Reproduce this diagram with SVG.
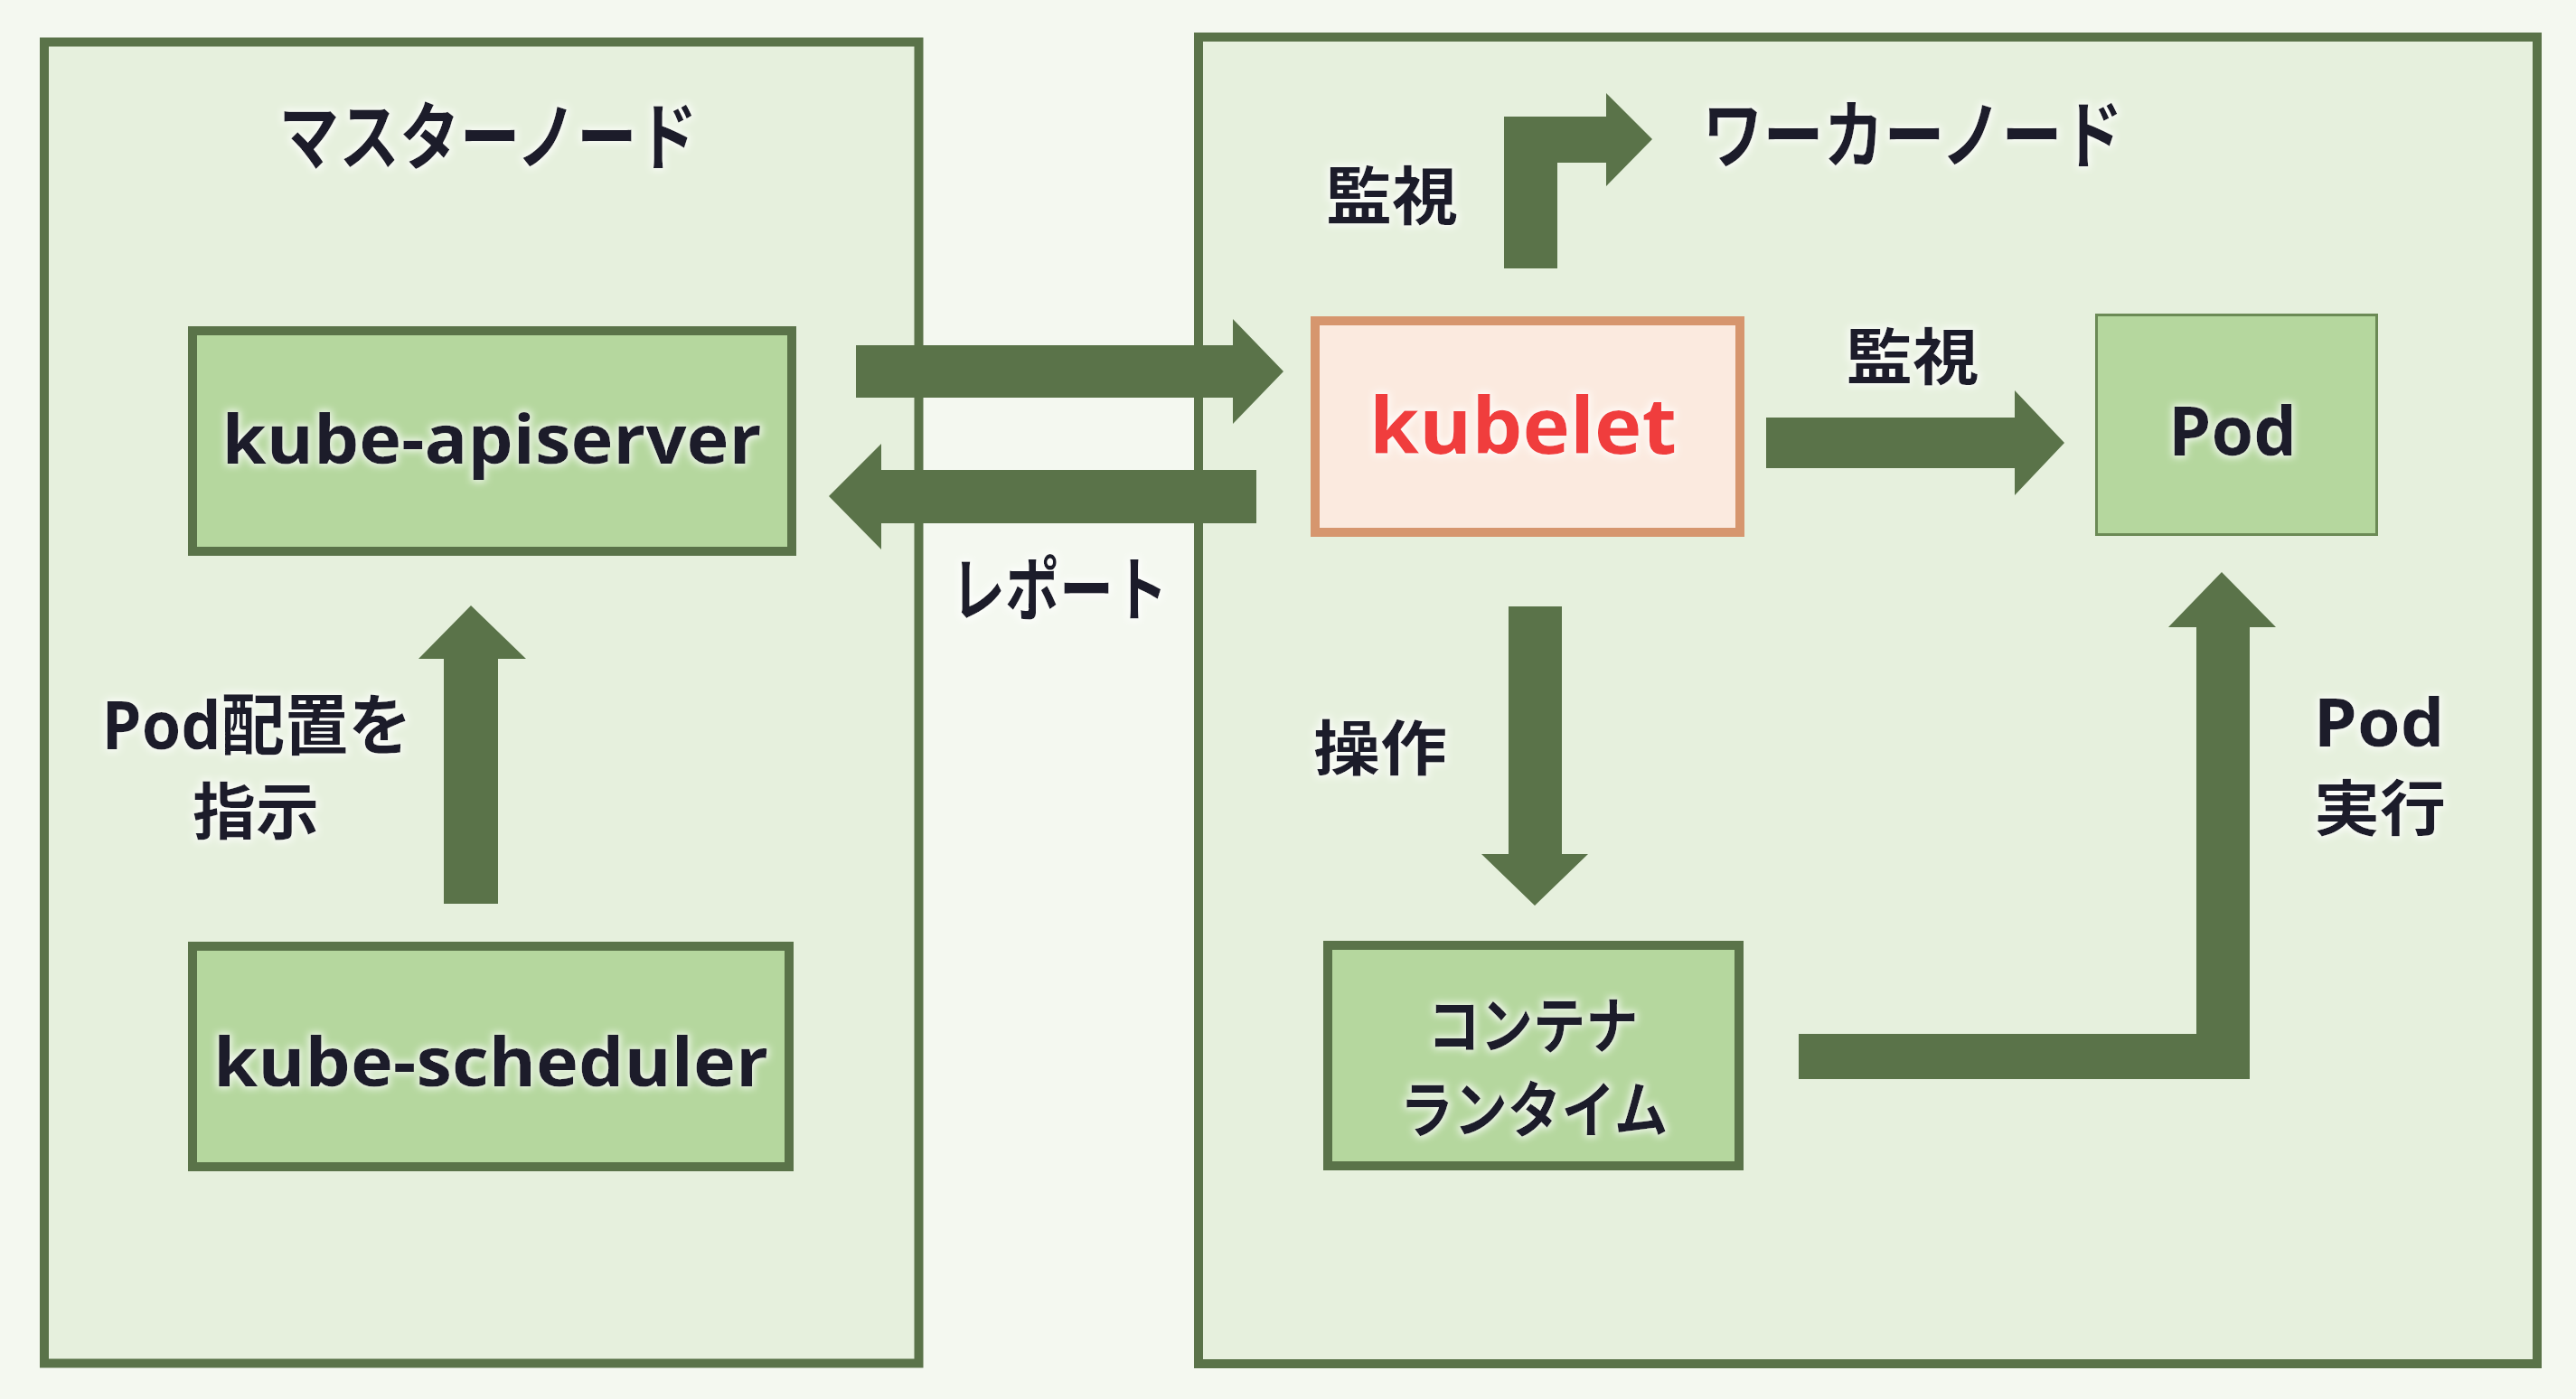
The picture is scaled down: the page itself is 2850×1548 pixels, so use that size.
<svg xmlns="http://www.w3.org/2000/svg" width="2850" height="1548" viewBox="0 0 2850 1548">
<defs>
<style>
.frame{fill:#e6f0dd;stroke:#5a7349;stroke-width:10}
.node{fill:#b5d79e;stroke:#5a7349;stroke-width:10}
.kube{fill:#fbeadf;stroke:#d6966e;stroke-width:10}
.podbox{fill:#b5d79e;stroke:#6b8a55;stroke-width:3}
.arrow{fill:#5a7349}
.lat{font-family:"Open Sans","Noto Sans CJK JP",sans-serif;font-weight:700;fill:#1f1f29}
.jp{font-family:"Noto Sans CJK JP",sans-serif;font-weight:700;fill:#1f1f29}
.red{fill:#f03c3c}
</style>
<filter id="glow" x="-10%" y="-30%" width="120%" height="160%">
<feMorphology in="SourceAlpha" operator="dilate" radius="2" result="d"/>
<feGaussianBlur in="d" stdDeviation="4" result="b"/>
<feFlood flood-color="#ffffff" flood-opacity="0.85"/>
<feComposite in2="b" operator="in" result="g"/>
<feMerge><feMergeNode in="g"/><feMergeNode in="SourceGraphic"/></feMerge>
</filter>
</defs>
<rect x="0" y="0" width="2850" height="1548" fill="#f4f8f0"/>

<g id="master-node">
<rect class="frame" x="49" y="46.5" width="967.5" height="1462"/>
<text class="jp" filter="url(#glow)" x="540" y="181" font-size="82" text-anchor="middle" textLength="463" lengthAdjust="spacingAndGlyphs">マスターノード</text>
</g>

<g id="worker-node">
<rect class="frame" x="1326" y="41" width="1481" height="1468"/>
<text class="jp" filter="url(#glow)" x="2116" y="179" font-size="82" text-anchor="middle" textLength="465" lengthAdjust="spacingAndGlyphs">ワーカーノード</text>
</g>

<g id="kube-apiserver">
<rect class="node" x="213" y="366" width="663" height="244"/>
<text class="lat" filter="url(#glow)" x="544" y="513" font-size="76" text-anchor="middle" textLength="597" lengthAdjust="spacingAndGlyphs">kube-apiserver</text>
</g>

<g id="kube-scheduler">
<rect class="node" x="213" y="1047" width="660" height="244"/>
<text class="lat" filter="url(#glow)" x="543" y="1202" font-size="76" text-anchor="middle" textLength="614" lengthAdjust="spacingAndGlyphs">kube-scheduler</text>
</g>

<g id="kubelet">
<rect class="kube" x="1455" y="355" width="470" height="234"/>
<text class="lat red" filter="url(#glow)" x="1685" y="502" font-size="86" text-anchor="middle" textLength="340" lengthAdjust="spacingAndGlyphs">kubelet</text>
</g>

<g id="pod">
<rect class="podbox" x="2319.5" y="348.5" width="310" height="243"/>
<text class="lat" filter="url(#glow)" x="2470" y="504" font-size="76" text-anchor="middle" textLength="142" lengthAdjust="spacingAndGlyphs">Pod</text>
</g>

<g id="container-runtime">
<rect class="node" x="1469" y="1046" width="455" height="244"/>
<text class="jp" filter="url(#glow)" x="1696" y="1160" font-size="68" text-anchor="middle" textLength="233" lengthAdjust="spacingAndGlyphs">コンテナ</text>
<text class="jp" filter="url(#glow)" x="1697" y="1253" font-size="68" text-anchor="middle" textLength="297" lengthAdjust="spacingAndGlyphs">ランタイム</text>
</g>

<g id="connectors">
<polygon class="arrow" points="947,382 1364,382 1364,353 1420,411 1364,469 1364,440 947,440"/>
<polygon class="arrow" points="1390,520 975,520 975,491 917,549 975,608 975,579 1390,579"/>
<polygon class="arrow" points="1664,297 1664,129 1777,129 1777,103 1828,154 1777,206 1777,180 1723,180 1723,297"/>
<polygon class="arrow" points="1954,462 2229,462 2229,432 2284,490 2229,548 2229,518 1954,518"/>
<polygon class="arrow" points="491,1000 491,729 463,729 521,670 582,729 551,729 551,1000"/>
<polygon class="arrow" points="1669,671 1728,671 1728,945 1757,945 1698,1002 1639,945 1669,945"/>
<polygon class="arrow" points="1990,1144 2430,1144 2430,694 2399,694 2458,633 2518,694 2489,694 2489,1194 1990,1194"/>
</g>

<g id="labels">
<text class="jp" filter="url(#glow)" x="1172" y="681" font-size="78" text-anchor="middle" textLength="240" lengthAdjust="spacingAndGlyphs">レポート</text>
<text class="jp" filter="url(#glow)" x="1540" y="243" font-size="70" text-anchor="middle" textLength="146" lengthAdjust="spacingAndGlyphs">監視</text>
<text class="jp" filter="url(#glow)" x="2116" y="420" font-size="68" text-anchor="middle" textLength="147" lengthAdjust="spacingAndGlyphs">監視</text>
<text class="jp" filter="url(#glow)" x="1527" y="852" font-size="66" text-anchor="middle" textLength="148" lengthAdjust="spacingAndGlyphs">操作</text>
<text class="lat" filter="url(#glow)" x="284" y="829" font-size="74" text-anchor="middle" textLength="343" lengthAdjust="spacingAndGlyphs">Pod<tspan class="jp">配置を</tspan></text>
<text class="jp" filter="url(#glow)" x="283" y="923" font-size="68" text-anchor="middle" textLength="140" lengthAdjust="spacingAndGlyphs">指示</text>
<text class="lat" filter="url(#glow)" x="2632" y="826" font-size="74" text-anchor="middle" textLength="145" lengthAdjust="spacingAndGlyphs">Pod</text>
<text class="jp" filter="url(#glow)" x="2633" y="919" font-size="67" text-anchor="middle" textLength="146" lengthAdjust="spacingAndGlyphs">実行</text>
</g>
</svg>
